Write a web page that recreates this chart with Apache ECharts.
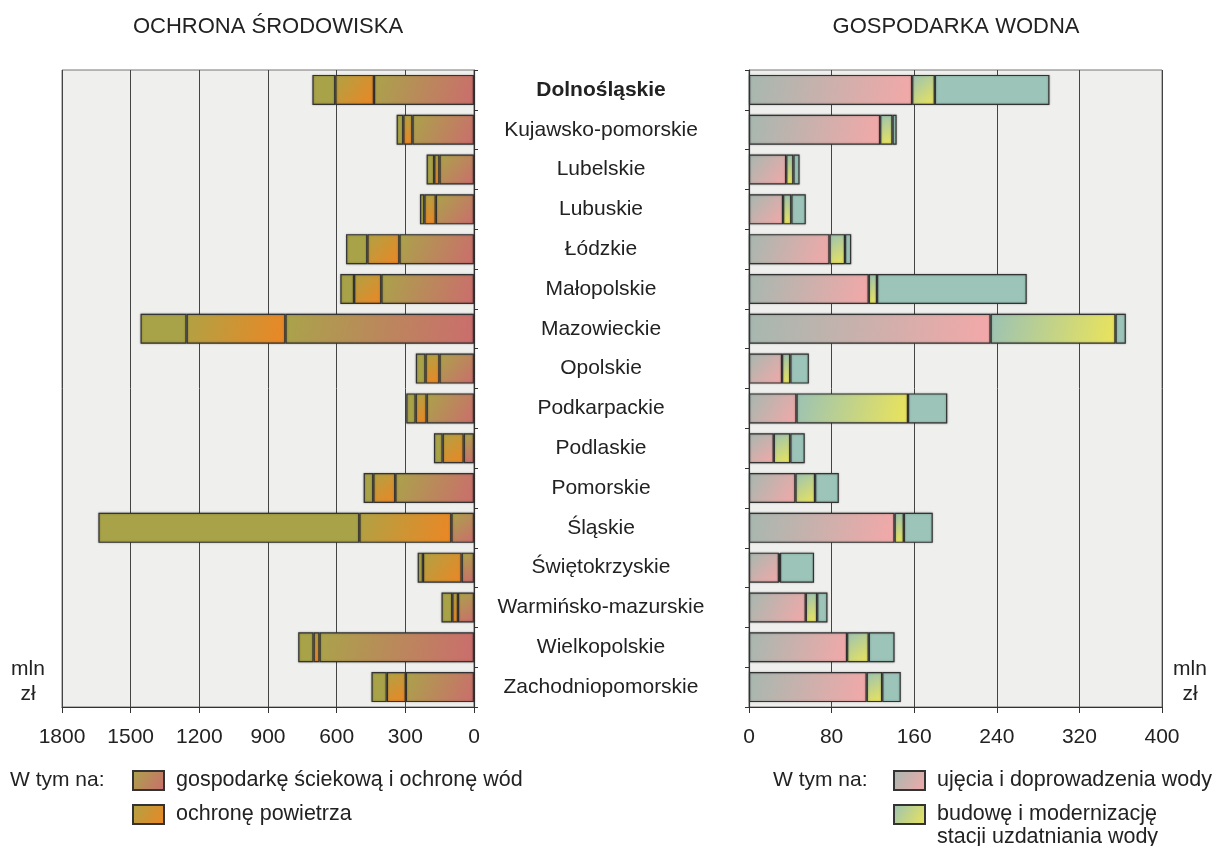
<!DOCTYPE html>
<html>
<head>
<meta charset="utf-8">
<title>Ochrona środowiska i gospodarka wodna</title>
<script src="https://cdn.jsdelivr.net/npm/echarts@6/dist/echarts.min.js"></script>
<style>
html, body { margin: 0; padding: 0; background: #fff; }
#chart { width: 1214px; height: 846px; }
</style>
</head>
<body>
<div id="chart"></div>
<script>
// wojewodztwa (od gory)
var categories = ['Dolnośląskie', 'Kujawsko-pomorskie', 'Lubelskie', 'Lubuskie', 'Łódzkie',
    'Małopolskie', 'Mazowieckie', 'Opolskie', 'Podkarpackie', 'Podlaskie', 'Pomorskie',
    'Śląskie', 'Świętokrzyskie', 'Warmińsko-mazurskie', 'Wielkopolskie', 'Zachodniopomorskie'];

// ochrona srodowiska, mln zl
var sciekiValues = [437, 269, 151, 167, 326, 405, 824, 151, 207, 45, 344, 99, 54, 70, 675, 298];
var powietrzeValues = [169, 40, 23, 50, 140, 119, 432, 61, 48, 92, 96, 402, 169, 25, 26, 83];
var ochronaInneValues = [100, 29, 33, 19, 93, 60, 201, 42, 41, 38, 42, 1140, 23, 47, 67, 67];

// gospodarka wodna, mln zl
var ujeciaValues = [158, 127, 36, 33, 78, 116, 234, 32, 46, 24, 45, 141, 29, 55, 95, 114];
var stacjeValues = [22, 12, 7, 8, 15, 8, 121, 8, 108, 16, 19, 9, 1, 11, 21, 15];
var wodnaInneValues = [111, 4, 6, 14, 6, 145, 10, 18, 38, 14, 23, 28, 33, 10, 25, 18];

// skale osi
var leftMax = 1800, leftStep = 300;
var rightMax = 400, rightStep = 80;

var FONT = 'Liberation Sans, Arial, Helvetica, sans-serif';
var TXT = '#222';

//gradient po przekatnej segmentu
function grad(c1, c2) {
    return new echarts.graphic.LinearGradient(0, 0, 1, 1, [
        { offset: 0, color: c1 },
        { offset: 1, color: c2 }
    ]);
}

function barSeries(name, data, idx, color) {
    return {
        name: name,
        type: 'bar',
        stack: 'p' + idx,
        xAxisIndex: idx,
        yAxisIndex: idx,
        barWidth: 30,
        data: data,
        itemStyle: {
            color: color,
            borderColor: '#333',
            borderWidth: 1.2,
            shadowColor: 'rgba(0,0,0,0.3)',
            shadowBlur: 2
        },
        emphasis: { disabled: true }
    };
}

function valueAxis(idx, max, step, inverse) {
    return {
        type: 'value',
        gridIndex: idx,
        min: 0,
        max: max,
        interval: step,
        inverse: inverse,
        axisLine: { show: true, lineStyle: { color: '#333', width: 1.2 } },
        axisTick: { show: true, length: 6, lineStyle: { color: '#333' } },
        axisLabel: {
            fontSize: 21, fontFamily: FONT, color: TXT, margin: 20,
            formatter: function (v) { return String(v); }
        },
        splitLine: { show: true, lineStyle: { color: '#444', width: 1 } }
    };
}

function categoryAxis(idx, pos, showLabel) {
    return {
        type: 'category',
        gridIndex: idx,
        position: pos,
        inverse: true,
        data: categories,
        axisLine: { show: true, lineStyle: { color: '#333', width: 1.2 } },
        axisTick: { show: true, length: 4, interval: 0, lineStyle: { color: '#333' } },
        axisLabel: {
            show: showLabel,
            interval: 0,
            margin: 127,
            align: 'center',
            fontSize: 21,
            fontFamily: FONT,
            color: TXT,
            formatter: function (value, index) {
                if (index == 0) {
                    return '{b|' + value + '}';
                }
                return value;
            },
            rich: {
                b: { fontSize: 21, fontFamily: FONT, fontWeight: 'bold', color: TXT }
            }
        },
        splitLine: { show: false }
    };
}

//jedna pozycja legendy; dla nazwy dwuwierszowej pusta linia na gorze,
//zeby pierwszy wiersz stal na wysokosci ikony
function legendItem(left, top, name) {
    return {
        orient: 'vertical',
        left: left,
        top: top,
        padding: 0,
        height: 120,
        itemWidth: 31,
        itemHeight: 19,
        icon: 'rect',
        selectedMode: false,
        data: [name],
        formatter: function (n) {
            if (n.indexOf('\n') != -1) {
                return '\n' + n;
            }
            return n;
        },
        textStyle: { fontSize: 21.5, fontFamily: FONT, color: TXT, lineHeight: 23, padding: [0, 0, 0, 7] }
    };
}

var nScieki = 'gospodarkę ściekową i ochronę wód';
var nPowietrze = 'ochronę powietrza';
var nUjecia = 'ujęcia i doprowadzenia wody';
var nStacje = 'budowę i modernizację\nstacji uzdatniania wody';

var option = {
    backgroundColor: '#fff',
    animation: false,
    title: [
        { text: 'OCHRONA ŚRODOWISKA', left: 268, top: 16, textAlign: 'center', padding: 0,
          textStyle: { fontSize: 22, fontWeight: 'normal', fontFamily: FONT, color: TXT } },
        { text: 'GOSPODARKA WODNA', left: 956, top: 16, textAlign: 'center', padding: 0,
          textStyle: { fontSize: 22, fontWeight: 'normal', fontFamily: FONT, color: TXT } }
    ],
    grid: [
        { left: 62, top: 70, width: 412, height: 637, show: true, backgroundColor: '#efefed', borderColor: '#777', borderWidth: 1 },
        { left: 749, top: 70, width: 413, height: 637, show: true, backgroundColor: '#efefed', borderColor: '#777', borderWidth: 1 }
    ],
    xAxis: [
        valueAxis(0, leftMax, leftStep, true),
        valueAxis(1, rightMax, rightStep, false)
    ],
    yAxis: [
        categoryAxis(0, 'right', true),
        categoryAxis(1, 'left', false)
    ],
    legend: [
        legendItem(132, 769, nScieki),
        legendItem(132, 803, nPowietrze),
        legendItem(893, 769, nUjecia),
        legendItem(893, 780, nStacje)
    ],
    graphic: [
        { type: 'text', x: 10, y: 780, style: { text: 'W tym na:', font: '21px ' + FONT, fill: TXT, verticalAlign: 'middle' } },
        { type: 'text', x: 773, y: 780, style: { text: 'W tym na:', font: '21px ' + FONT, fill: TXT, verticalAlign: 'middle' } },
        { type: 'text', x: 28, y: 682, style: { text: 'mln\nzł', font: '21px ' + FONT, fill: TXT, align: 'center', verticalAlign: 'middle', lineHeight: 25 } },
        { type: 'text', x: 1190, y: 682, style: { text: 'mln\nzł', font: '21px ' + FONT, fill: TXT, align: 'center', verticalAlign: 'middle', lineHeight: 25 } }
    ],
    series: [
        barSeries(nScieki, sciekiValues, 0, grad('#aaa34a', '#cb6d6d')),
        barSeries(nPowietrze, powietrzeValues, 0, grad('#b0a244', '#ec8624')),
        barSeries('pozostałe (ochrona środowiska)', ochronaInneValues, 0, '#a8a248'),
        barSeries(nUjecia, ujeciaValues, 1, grad('#a6b8b0', '#f3a8a8')),
        barSeries(nStacje, stacjeValues, 1, grad('#9bc2b4', '#ebe45a')),
        barSeries('pozostałe (gospodarka wodna)', wodnaInneValues, 1, '#9cc4b8')
    ]
};

var myChart = echarts.init(document.getElementById('chart'), null, { renderer: 'canvas' });
myChart.setOption(option);
</script>
</body>
</html>
